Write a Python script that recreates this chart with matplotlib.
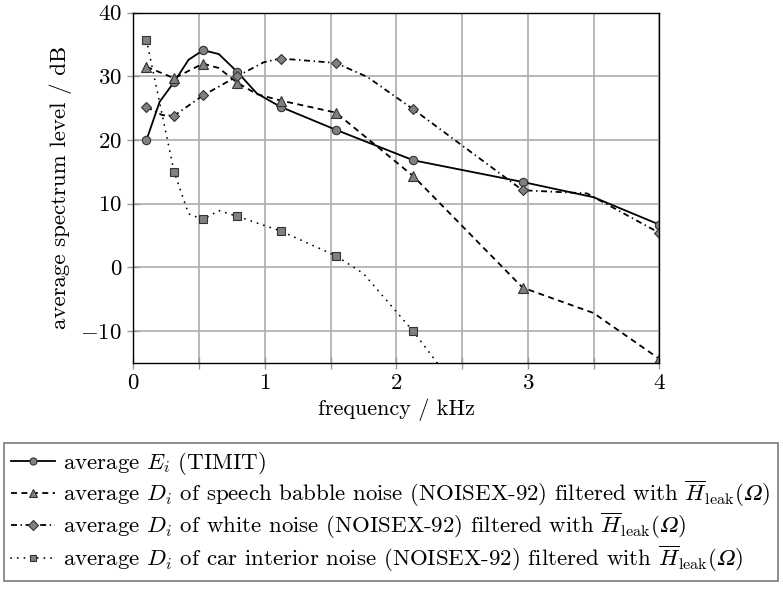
import numpy as np
import matplotlib
matplotlib.use("Agg")
import matplotlib.pyplot as plt

plt.rcParams['font.family'] = 'serif'
plt.rcParams['font.serif'] = ['cmr10']
plt.rcParams['mathtext.fontset'] = 'cm'
plt.rcParams['axes.formatter.use_mathtext'] = True
plt.rcParams['lines.scale_dashes'] = False

# === datos (frecuencia en kHz, nivel en dB) ===
marker_freq = [0.1, 0.31, 0.53, 0.79, 1.12, 1.54, 2.13, 2.96, 4.0]

timit_f = [0.1, 0.2, 0.31, 0.42, 0.53, 0.65, 0.79, 0.94, 1.12, 1.54, 2.13, 2.96, 3.5, 4.0]
timit_db = [20.0, 26.0, 29.1, 32.6, 34.1, 33.5, 30.7, 27.3, 25.2, 21.6, 16.8, 13.4, 11.0, 6.7]

babble_f = [0.1, 0.31, 0.53, 0.65, 0.79, 0.94, 1.12, 1.54, 2.13, 2.96, 3.5, 4.0]
babble_db = [31.5, 29.7, 32.0, 31.3, 29.0, 27.2, 26.2, 24.3, 14.3, -3.2, -7.2, -14.4]

white_f = [0.1, 0.22, 0.31, 0.53, 0.79, 0.99, 1.12, 1.54, 1.78, 2.13, 2.96, 3.45, 4.0]
white_db = [25.2, 23.9, 23.8, 27.0, 30.0, 32.2, 32.8, 32.1, 29.9, 24.8, 12.1, 11.6, 5.4]

car_f = [0.1, 0.31, 0.42, 0.53, 0.65, 0.79, 1.12, 1.54, 1.75, 2.13, 2.5]
car_db = [35.7, 15.0, 8.4, 7.5, 8.9, 8.0, 5.7, 1.8, -1.0, -10.1, -20.2]

hleak = r"$\overline{H}_{\mathrm{leak}}(𝛺)$"
labels = [
    r"average $E_i$ (TIMIT)",
    r"average $D_i$ of speech babble noise (NOISEX-92) filtered with " + hleak,
    r"average $D_i$ of white noise (NOISEX-92) filtered with " + hleak,
    r"average $D_i$ of car interior noise (NOISEX-92) filtered with " + hleak,
]


def marcas(f):
    # indices de los puntos que llevan marcador
    return [i for i, v in enumerate(f) if any(abs(v - m) < 1e-6 for m in marker_freq)]


# === figura ===
fig = plt.figure(figsize=(7.83, 5.90), dpi=100)
ax = fig.add_axes([0.1703, 0.3853, 0.6717, 0.5932])

estilo = dict(color='black', lw=1.3, mfc='0.5', mec='0.2', mew=0.8)
ax.plot(timit_f, timit_db, '-', marker='o', ms=6, markevery=marcas(timit_f),
        label=labels[0], **estilo)
ax.plot(babble_f, babble_db, linestyle=(0, (4.3, 3.2)), marker='^', ms=6.5,
        markevery=marcas(babble_f), label=labels[1], **estilo)
ax.plot(white_f, white_db, linestyle=(0, (4.3, 2.6, 1.0, 2.6)), marker='D', ms=5.5,
        markevery=marcas(white_f), label=labels[2], **estilo)
ax.plot(car_f, car_db, linestyle=(0, (0.1, 4.7)), marker='s', ms=5.5,
        markevery=marcas(car_f), label=labels[3], dash_capstyle='round', **estilo)

ax.set_xlim(0, 4)
ax.set_ylim(-15, 40)
ax.set_xticks([0, 1, 2, 3, 4])
ax.set_xticks(np.arange(0, 4.01, 0.5), minor=True)
ax.set_yticks([-10, 0, 10, 20, 30, 40])
ax.tick_params(which='both', direction='inout', length=8, color='0.6', width=1.0,
               labelsize=16.5, pad=4)
ax.grid(True, which='both', axis='x', color='0.68', lw=1.2)
ax.grid(True, which='major', axis='y', color='0.68', lw=1.2)
ax.set_axisbelow(True)
for s in ax.spines.values():
    s.set_linewidth(1.0)
    s.set_zorder(3)

ax.set_xlabel("frequency / kHz", fontsize=16, labelpad=4)
ax.set_ylabel("average spectrum level / dB", fontsize=16.5, labelpad=6)

leg = fig.legend(loc='upper left', bbox_to_anchor=(0.005, 1 - 443 / 590),
                 fontsize=16.5, frameon=True, fancybox=False, edgecolor='0.35',
                 handlelength=1.95, handletextpad=0.35, borderpad=0.3,
                 labelspacing=0.07, markerscale=0.85, borderaxespad=0)
leg.get_frame().set_linewidth(1.2)

fig.savefig("out.png", dpi=100)
